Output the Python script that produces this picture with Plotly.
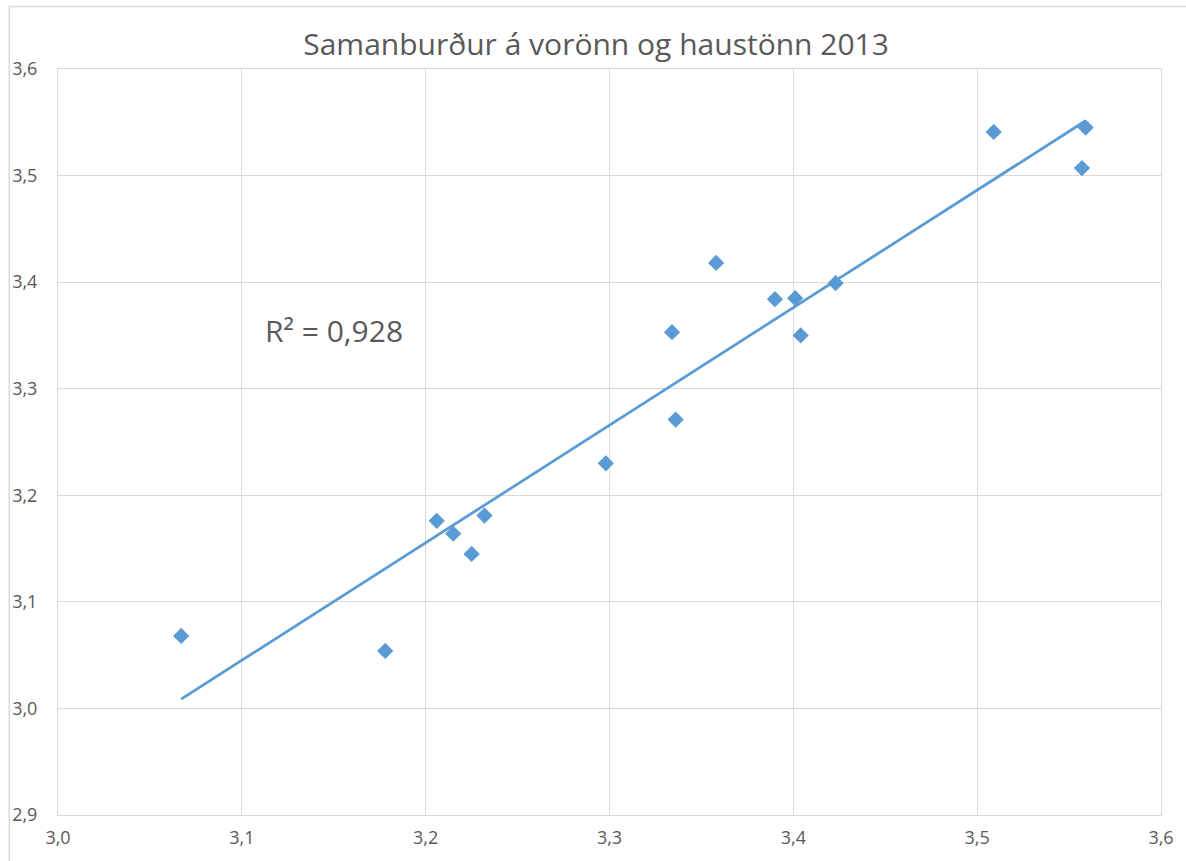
import numpy as np
import plotly.graph_objects as go

# Data (vorönn vs haustönn 2013)
vor = [3.067, 3.178, 3.206, 3.215, 3.225, 3.232, 3.298, 3.334, 3.336, 3.358,
       3.390, 3.401, 3.404, 3.423, 3.509, 3.557, 3.559]
haust = [3.068, 3.054, 3.176, 3.164, 3.145, 3.181, 3.230, 3.353, 3.271, 3.418,
         3.384, 3.385, 3.350, 3.399, 3.541, 3.507, 3.545]
title_text = "Samanburður á vorönn og haustönn 2013"
r2_text = "R² = 0,928"
x_ticks = [3.0, 3.1, 3.2, 3.3, 3.4, 3.5, 3.6]
y_ticks = [2.9, 3.0, 3.1, 3.2, 3.3, 3.4, 3.5, 3.6]

# Linear trendline
slope, intercept = np.polyfit(vor, haust, 1)
tx = [min(vor), max(vor)]
ty = [slope * v + intercept for v in tx]

W, H = 1186, 861
L, R, T, B = 57, 20, 69, 39
pw, ph = W - L - R, H - T - B

def px(x):  # layout pixel -> paper
    return (x - L) / pw

def py(y):
    return (H - B - y) / ph

fig = go.Figure()
fig.add_trace(go.Scatter(x=tx, y=ty, mode="lines",
                         line=dict(color="#5B9BD5", width=2.75),
                         hoverinfo="skip", showlegend=False))
fig.add_trace(go.Scatter(x=vor, y=haust, mode="markers",
                         marker=dict(symbol="diamond", size=12.5, color="#5B9BD5",
                                     line=dict(width=0)),
                         showlegend=False))

font_family = "Open Sans, Noto Sans, sans-serif"
axis_common = dict(showgrid=True, gridcolor="#D9D9D9", gridwidth=1,
                   showline=True, linecolor="#D9D9D9", linewidth=1, mirror=True,
                   zeroline=False, ticks="", tickformat=".1f",
                   tickfont=dict(family=font_family, size=18, color="#595959"))

fig.update_layout(
    width=W, height=H,
    margin=dict(l=L, r=R, t=T, b=B),
    paper_bgcolor="white", plot_bgcolor="white",
    separators=", ",
    title=dict(text=title_text, x=px(598), xanchor="center", xref="paper",
               y=1 - 44 / H, yanchor="middle",
               font=dict(family=font_family, size=30, color="#595959")),
    xaxis=dict(range=[3.0, 3.6], tickvals=x_ticks, ticklabelstandoff=6, **axis_common),
    yaxis=dict(range=[2.9, 3.6], tickvals=y_ticks, ticklabelstandoff=16, **axis_common),
    annotations=[dict(text=r2_text, x=3.1504, y=3.3544, xref="x", yref="y",
                      showarrow=False,
                      font=dict(family=font_family, size=30, color="#595959"))],
    shapes=[dict(type="rect", xref="paper", yref="paper",
                 x0=px(8), x1=px(1200), y0=py(875), y1=py(6),
                 line=dict(color="#D9D9D9", width=1.5), fillcolor="rgba(0,0,0,0)",
                 layer="below")],
)

page_js = (
    "var s=document.createElement('style');"
    "s.textContent='html,body{margin:0;padding:0;overflow:hidden;width:1186px;height:861px;}';"
    "document.head.appendChild(s);"
)
fig.write_html("out.html", config={"displayModeBar": False}, post_script=page_js)
